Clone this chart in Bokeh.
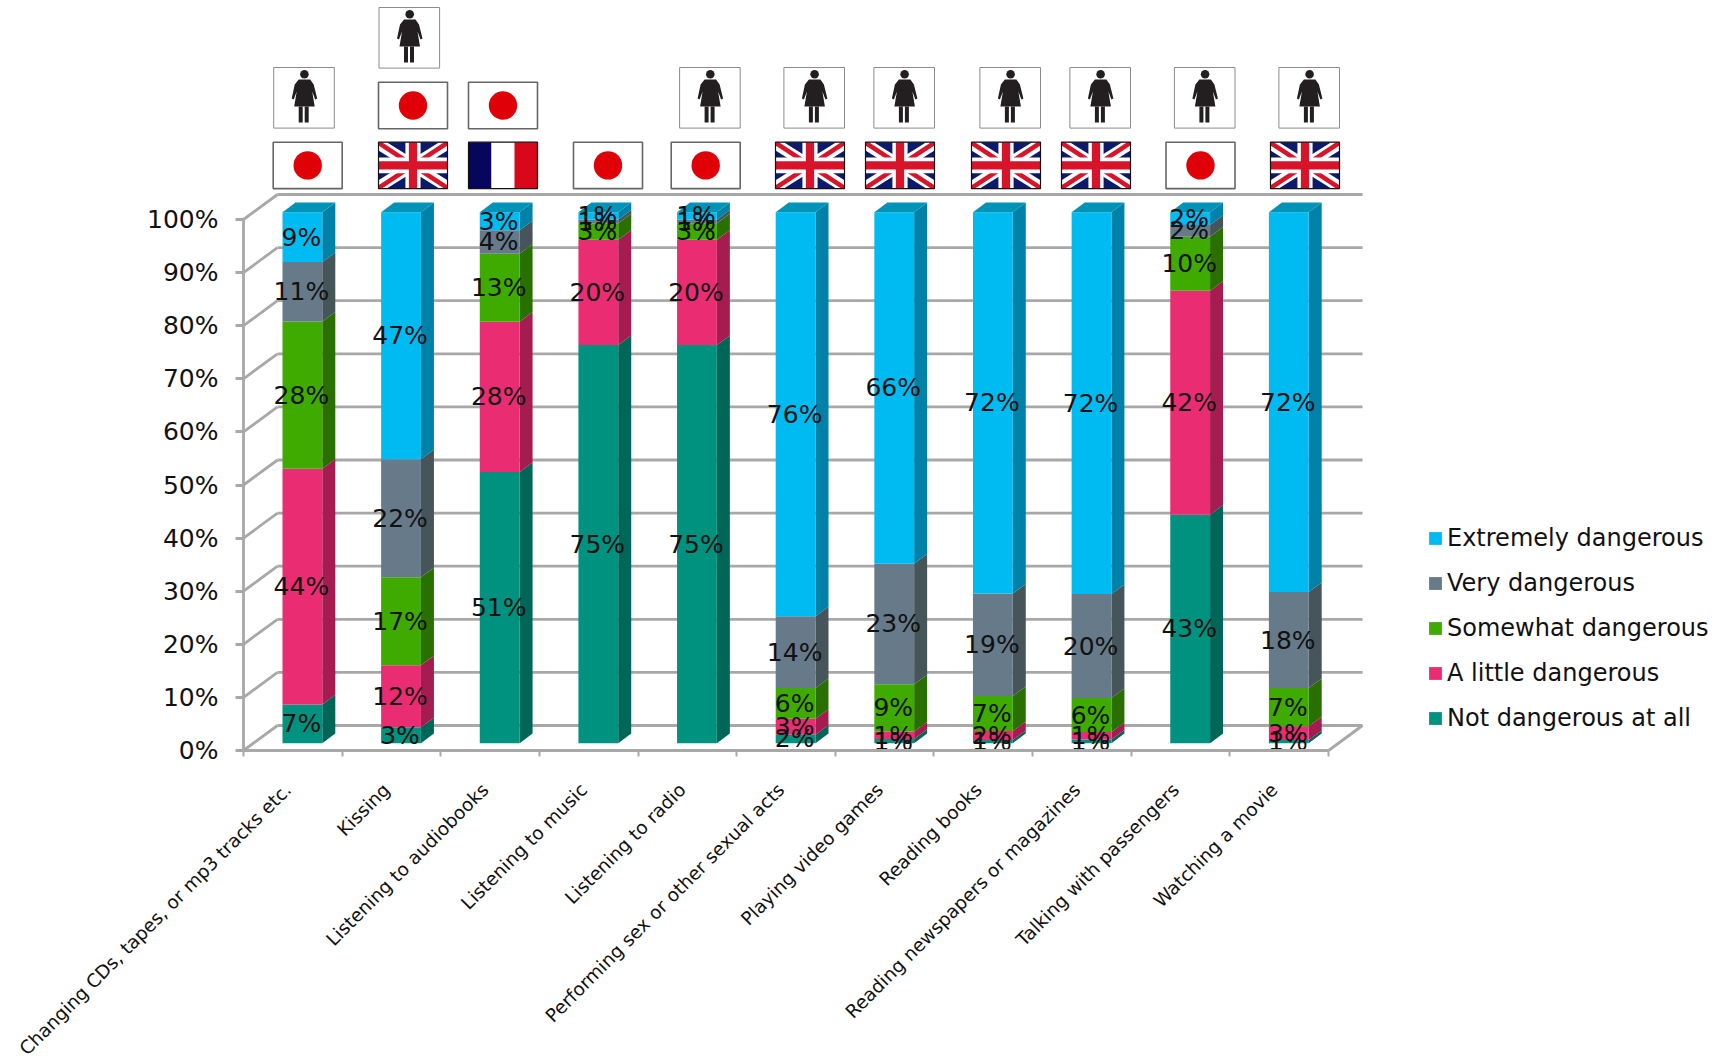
from math import pi

from bokeh.core.properties import value
from bokeh.embed import file_html
from bokeh.models import (FixedTicker, Legend, LegendItem, LinearAxis, PrintfTickFormatter,
                          Range1d)
from bokeh.plotting import figure
from bokeh.resources import INLINE

# Survey answers: share of respondents per activity and danger rating.
categories = [
    "Changing CDs, tapes, or mp3 tracks etc.", "Kissing", "Listening to audiobooks",
    "Listening to music", "Listening to radio", "Performing sex or other sexual acts",
    "Playing video games", "Reading books", "Reading newspapers or magazines",
    "Talking with passengers", "Watching a movie",
]
not_dangerous = [7.3, 3.0, 51.0, 74.9, 74.9, 1.6, 0.8, 0.6, 0.7, 43.0, 0.6]
a_little = [44.4, 11.7, 28.3, 19.8, 19.8, 3.0, 1.4, 1.7, 1.4, 42.1, 2.6]
somewhat = [27.7, 16.6, 12.8, 3.1, 3.1, 5.8, 8.9, 6.6, 6.4, 10.2, 7.2]
very = [11.2, 22.3, 4.4, 0.7, 0.7, 13.5, 22.7, 19.3, 19.6, 2.2, 18.1]
extremely = [9.4, 46.6, 3.4, 1.4, 1.4, 76.1, 66.2, 71.9, 71.9, 2.4, 71.6]

series_names = ["Not dangerous at all", "A little dangerous", "Somewhat dangerous",
                "Very dangerous", "Extremely dangerous"]
series_values = [not_dangerous, a_little, somewhat, very, extremely]
y_ticks = [0, 10, 20, 30, 40, 50, 60, 70, 80, 90, 100]

# Flags stacked above each column, bottom first, and whether a woman pictogram tops them.
column_flags = [["jp"], ["uk", "jp"], ["fr", "jp"], ["jp"], ["jp"], ["uk"], ["uk"], ["uk"],
                ["uk"], ["jp"], ["uk"]]
column_woman = [True, True, False, False, True, True, True, True, True, True, True]

FRONT = ["#00917F", "#EA2C72", "#3FAA00", "#667A8A", "#00BBF2"]
SIDE = ["#006657", "#A51C50", "#2A7000", "#465559", "#0082A8"]
TOP = "#0093B8"
WALL = "#A8A8A8"
INK = "#111111"

# Page layout, in pixels: the axis corner sits at (LEFT, BASE).
W, H = 1724, 1061
LEFT, BASE = 243, 750
CAT_W, UNIT = 98.64, 5.31


def dx(px):
    return px / CAT_W


def dy(px):
    return px / UNIT


def X(px):
    return (px - LEFT) / CAT_W


def Y(py):
    return (BASE - py) / UNIT


# The frame fills the whole page so that both axes can sit at fixed spots inside it.
p = figure(width=W, height=H, output_backend="svg", toolbar_location=None,
           x_range=Range1d(X(0), X(W)), y_range=Range1d(Y(H), Y(0)),
           min_border_left=0, min_border_right=0, min_border_top=0, min_border_bottom=0,
           outline_line_color=None, background_fill_color="white", border_fill_color="white",
           x_axis_type=None, y_axis_type=None)
p.grid.visible = False

# Walls and floor of the 3-D box behind the bars
wall_w = dx(34)
wall_h = dy(25)
n_cat = len(categories)
xs0, ys0, xs1, ys1 = [], [], [], []
for t in y_ticks:
    xs0 += [0, wall_w]
    ys0 += [t, t + wall_h]
    xs1 += [wall_w, n_cat + wall_w]
    ys1 += [t + wall_h, t + wall_h]
xs0.append(n_cat)
ys0.append(0)
xs1.append(n_cat + wall_w)
ys1.append(wall_h)
p.segment(xs0, ys0, xs1, ys1, line_color=WALL, line_width=2.8)

# Bars: a front face, a side face per segment and a lid on the finished stack
bar_x0 = dx(39)
bar_w = dx(39.8)
depth_x = dx(13)
depth_y = dy(9.6)
lift = dy(7.3)

legend_items = []
label_x, label_y, label_text = [], [], []
totals = [sum(col) for col in zip(*series_values)]
cum = [0.0] * n_cat
for s, vals in enumerate(series_values):
    lefts = [i + bar_x0 for i in range(n_cat)]
    rights = [l + bar_w for l in lefts]
    shares = [v / t * 100 for v, t in zip(vals, totals)]
    bottoms = [lift + c for c in cum]
    tops = [b + h for b, h in zip(bottoms, shares)]
    side_x = [[r, r + depth_x, r + depth_x, r] for r in rights]
    side_y = [[b, b + depth_y, t + depth_y, t] for b, t in zip(bottoms, tops)]
    p.patches(side_x, side_y, fill_color=SIDE[s], line_color=None)
    r_front = p.quad(left=lefts, right=rights, bottom=bottoms, top=tops,
                     fill_color=FRONT[s], line_color=None)
    legend_items.append(LegendItem(label=series_names[s], renderers=[r_front]))
    for i in range(n_cat):
        label_x.append(lefts[i] + bar_w / 2 - dx(1))
        label_y.append((bottoms[i] + tops[i]) / 2)
        label_text.append(f"{round(vals[i])}%")
    cum = [c + h for c, h in zip(cum, shares)]
    if s == len(series_values) - 1:
        lid_x = [[l, l + depth_x, r + depth_x, r] for l, r in zip(lefts, rights)]
        lid_y = [[t, t + depth_y, t + depth_y, t] for t in tops]
        p.patches(lid_x, lid_y, fill_color=TOP, line_color=None)

p.text(label_x, label_y, text=label_text, text_font=value("DejaVu Sans"),
       text_font_size="25px", text_color=INK, text_align="center", text_baseline="middle")

# Flags and pictograms above the columns
flag_left = [272.7, 378, 468, 573, 670.7, 775, 865, 971, 1061, 1165.5, 1270]
FLAG_W, FLAG_H = 69, 46.4
FLAG_ROWS = [141.7, 81.8]
BOX = 60.6

polys = {"x": [], "y": [], "c": []}


def add_poly(x0, y0, w, h, pts, color):
    polys["x"].append([X(x0 + u * w) for u, _ in pts])
    polys["y"].append([Y(y0 + v * h) for _, v in pts])
    polys["c"].append(color)


def rect(a, b, c, d):
    return [(a, b), (c, b), (c, d), (a, d)]


def diag(a, b, flip):
    pts = [(0, 0), (a, 0), (1, 1 - b), (1, 1), (1 - a, 1), (0, b)]
    return [((1 - u) if flip else u, v) for u, v in pts]


def draw_flag(kind, x0, y0):
    if kind == "jp":
        p.rect([X(x0 + FLAG_W / 2)], [Y(y0 + FLAG_H / 2)], width=dx(FLAG_W), height=dy(FLAG_H),
                fill_color="white", line_color="#666666", line_width=1.6)
        p.circle([X(x0 + FLAG_W / 2)], [Y(y0 + FLAG_H / 2)], radius=dx(14.2),
                 fill_color="#E00007", line_color=None)
        return
    if kind == "fr":
        add_poly(x0, y0, FLAG_W, FLAG_H, rect(0, 0, 1 / 3, 1), "#06065F")
        add_poly(x0, y0, FLAG_W, FLAG_H, rect(1 / 3, 0, 2 / 3, 1), "white")
        add_poly(x0, y0, FLAG_W, FLAG_H, rect(2 / 3, 0, 1, 1), "#D80719")
        frames.append((x0, y0))
        return
    add_poly(x0, y0, FLAG_W, FLAG_H, rect(0, 0, 1, 1), "#0A1A6C")
    add_poly(x0, y0, FLAG_W, FLAG_H, diag(0.12, 0.18, False), "white")
    add_poly(x0, y0, FLAG_W, FLAG_H, diag(0.12, 0.18, True), "white")
    add_poly(x0, y0, FLAG_W, FLAG_H, diag(0.05, 0.07, False), "#D8142B")
    add_poly(x0, y0, FLAG_W, FLAG_H, diag(0.05, 0.07, True), "#D8142B")
    add_poly(x0, y0, FLAG_W, FLAG_H, rect(0.39, 0, 0.61, 1), "white")
    add_poly(x0, y0, FLAG_W, FLAG_H, rect(0, 0.33, 1, 0.67), "white")
    add_poly(x0, y0, FLAG_W, FLAG_H, rect(0.44, 0, 0.56, 1), "#D8142B")
    add_poly(x0, y0, FLAG_W, FLAG_H, rect(0, 0.41, 1, 0.59), "#D8142B")
    frames.append((x0, y0))


def draw_woman(x0, y0):
    p.rect([X(x0 + BOX / 2)], [Y(y0 + BOX / 2)], width=dx(BOX), height=dy(BOX),
           fill_color="white", line_color="#8C8C8C", line_width=1)
    ink = "#231F20"
    p.circle([X(x0 + 30.7)], [Y(y0 + 6.8)], radius=dx(4.3), fill_color=ink, line_color=None)
    dress = [(25, 12), (36.5, 12), (40, 17), (43.5, 31), (41.5, 32), (38.5, 24), (41, 39), (20.5, 39),
             (23, 24), (20, 32), (18, 31), (21, 17)]
    legs = [[(25, 39), (29, 39), (29, 55), (25, 55)], [(31, 39), (35, 39), (35, 55), (31, 55)]]
    add_poly(x0, y0, 1, 1, dress, ink)
    for leg in legs:
        add_poly(x0, y0, 1, 1, leg, ink)


frames = []
for i, flags in enumerate(column_flags):
    for r, kind in enumerate(flags):
        draw_flag(kind, flag_left[i], FLAG_ROWS[r])

# The first two pictograms align with their flag's left edge, the others with the right edge.
for i, has_woman in enumerate(column_woman):
    if has_woman:
        stack = len(column_flags[i])
        box_left = flag_left[i] + 0.5 if i < 2 else flag_left[i] + FLAG_W - BOX
        draw_woman(box_left, 7 if stack == 2 else 67)

p.patches(polys["x"], polys["y"], fill_color=polys["c"], line_color=None)
for x0, y0 in frames:
    p.rect([X(x0 + FLAG_W / 2)], [Y(y0 + FLAG_H / 2)], width=dx(FLAG_W), height=dy(FLAG_H),
           fill_color=None, line_color="#111111", line_width=1.2)

# Axes, held at the box's corner instead of the frame's edges
y_axis = LinearAxis(ticker=FixedTicker(ticks=y_ticks), bounds=(0, 100), fixed_location=0,
                    formatter=PrintfTickFormatter(format="%d%%"),
                    axis_line_color=WALL, axis_line_width=2.8,
                    major_tick_line_color=WALL, major_tick_line_width=2.8,
                    major_tick_in=0, major_tick_out=8, minor_tick_line_color=None,
                    major_label_standoff=17, major_label_text_font="DejaVu Sans",
                    major_label_text_font_size="25px", major_label_text_color=INK)
p.add_layout(y_axis, "left")

label_ticks = [i + 0.45 for i in range(n_cat)]
x_axis = LinearAxis(ticker=FixedTicker(ticks=label_ticks, minor_ticks=list(range(n_cat + 1))),
                    bounds=(0, n_cat), fixed_location=0,
                    major_label_overrides=dict(zip(label_ticks, categories)),
                    major_label_orientation=pi / 4, major_label_standoff=30,
                    major_label_text_font="DejaVu Sans", major_label_text_font_size="18.5px",
                    major_label_text_color=INK, axis_line_color=WALL, axis_line_width=2.8,
                    major_tick_line_color=None, minor_tick_line_color=WALL,
                    minor_tick_line_width=2, minor_tick_in=0, minor_tick_out=6)
p.add_layout(x_axis, "below")

legend = Legend(items=list(reversed(legend_items)), location=(1427, H - 732),
                orientation="vertical", background_fill_alpha=0, border_line_color=None,
                padding=0, margin=0, spacing=17, glyph_width=16, glyph_height=16,
                label_standoff=4, label_text_font="DejaVu Sans", label_text_font_size="24px",
                label_text_color=INK, label_height=14)
p.add_layout(legend, "center")

open("out.html", "w").write(file_html(p, INLINE))
